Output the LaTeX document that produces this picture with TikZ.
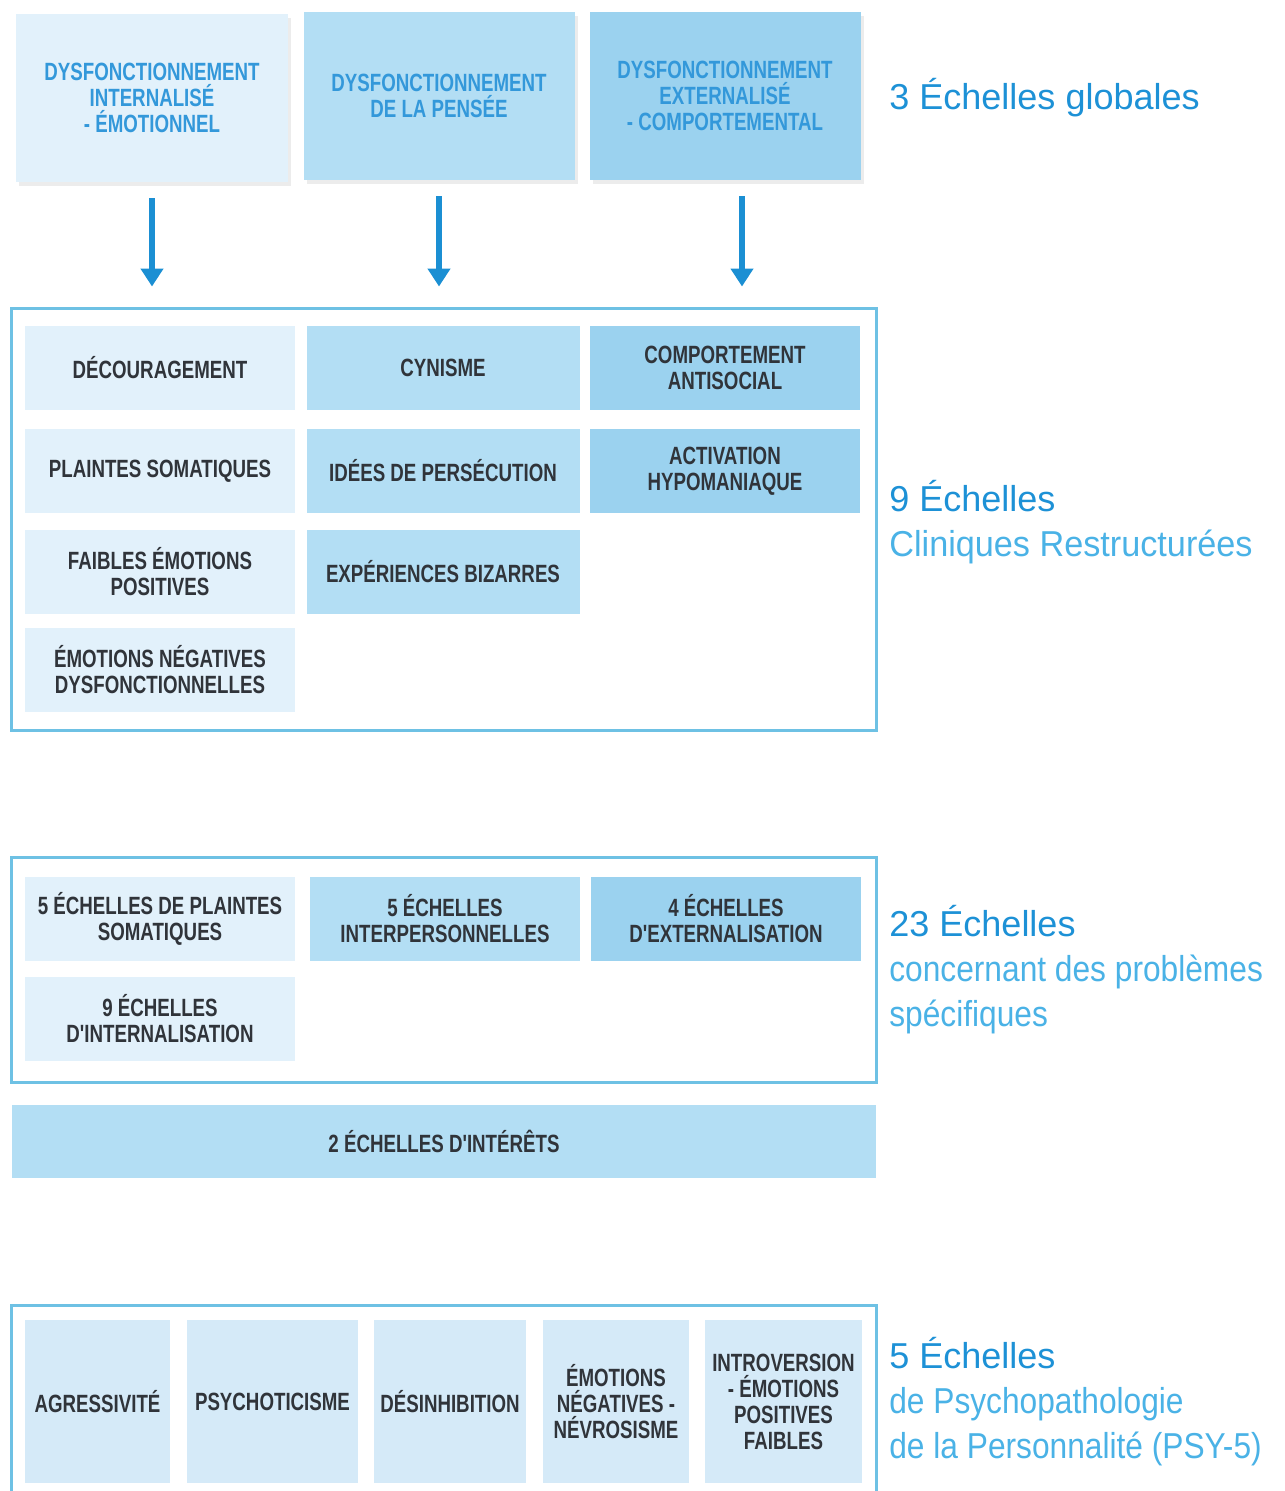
\documentclass[tikz,border=0pt]{standalone}
\usepackage{fontspec}
\setmainfont{Liberation Sans}
\newfontfamily\narrowfont[FakeStretch=0.75]{Liberation Sans}
\newfontfamily\headfont[FakeStretch=0.88]{Liberation Sans}
\newfontfamily\clinfont[FakeStretch=0.95]{Liberation Sans}
\usetikzlibrary{arrows.meta,shadows}

\definecolor{pale}{HTML}{E2F1FB}
\definecolor{mid}{HTML}{B3DEF4}
\definecolor{deep}{HTML}{9BD2EF}
\definecolor{psy}{HTML}{D5EAF8}
\definecolor{celltext}{HTML}{30343A}
\definecolor{globtext}{HTML}{3398DA}
\definecolor{framecol}{HTML}{6EC1E4}
\definecolor{arrowcol}{HTML}{1B8FD3}
\definecolor{headdark}{HTML}{1D91D6}
\definecolor{headlight}{HTML}{4AB2E6}

\begin{document}
\begin{tikzpicture}[x=0.2mm, y=-0.2mm,
    cell/.style={fill=#1, minimum width=54mm, minimum height=16.8mm, inner sep=0pt,
        align=center, text=celltext,
        font=\narrowfont\bfseries\fontsize{14.2}{14.8}\selectfont},
    cell/.default=pale,
    glob/.style={cell=#1, minimum width=54.2mm, minimum height=33.6mm, text=globtext,
        drop shadow={shadow xshift=0.6mm, shadow yshift=-0.8mm, opacity=0.12, fill=black!60}},
    frame/.style={draw=framecol, line width=0.6mm, minimum width=172.8mm, inner sep=0pt},
    head/.style={anchor=west, inner sep=0pt, align=left, text=headlight,
        font=\headfont\fontsize{20.5}{25.6}\selectfont},
    down/.style={draw=arrowcol, line width=1.1mm, -{Triangle[width=4.4mm,length=3.6mm]},
        shorten <=3.2mm, shorten >=4mm}]
    \clip (0,0) rectangle (1285,1491);

    % Global scales
    \node[glob=pale] (glob1) at (152,98) {DYSFONCTIONNEMENT\\INTERNALISÉ\\- ÉMOTIONNEL};
    \node[glob=mid] (glob2) at (439,96) {DYSFONCTIONNEMENT\\DE LA PENSÉE};
    \node[glob=deep] (glob3) at (725,96) {DYSFONCTIONNEMENT\\EXTERNALISÉ\\- COMPORTEMENTAL};
    \node[head] (hGlob) at (889,98) {{\normalfont\color{headdark}3 Échelles globales}};

    % Restructured clinical scales
    \node[frame, minimum height=84.4mm] (clinFrame) at (444,519) {};
    \node[cell] (dem) at (160,368) {DÉCOURAGEMENT};
    \node[cell=mid, minimum width=54.6mm] (cyn) at (443,368) {CYNISME};
    \node[cell=deep] (asb) at (725,368) {COMPORTEMENT\\ANTISOCIAL};
    \node[cell] (som) at (160,471) {PLAINTES SOMATIQUES};
    \node[cell=mid, minimum width=54.6mm] (per) at (443,471) {IDÉES DE PERSÉCUTION};
    \node[cell=deep] (hpm) at (725,471) {ACTIVATION\\HYPOMANIAQUE};
    \node[cell] (lpe) at (160,572) {FAIBLES ÉMOTIONS\\POSITIVES};
    \node[cell=mid, minimum width=54.6mm] (abx) at (443,572) {EXPÉRIENCES BIZARRES};
    \node[cell] (dne) at (160,670) {ÉMOTIONS NÉGATIVES\\DYSFONCTIONNELLES};
    \node[head] (hClin) at (889,522)
        {{\normalfont\color{headdark}9 Échelles}\\{\clinfont Cliniques Restructurées}};

    % Specific problems
    \node[frame, minimum height=45mm] (specFrame) at (444,969.5) {};
    \node[cell] (spSom) at (160,918.5) {5 ÉCHELLES DE PLAINTES\\SOMATIQUES};
    \node[cell=mid] (spInt) at (445,918.5) {5 ÉCHELLES\\INTERPERSONNELLES};
    \node[cell=deep] (spExt) at (726,918.5) {4 ÉCHELLES\\D'EXTERNALISATION};
    \node[cell] (spInn) at (160,1018.5) {9 ÉCHELLES\\D'INTERNALISATION};
    \node[cell=mid, minimum width=172.8mm, minimum height=14.6mm] (interest) at (444,1141)
        {2 ÉCHELLES D'INTÉRÊTS};
    \node[head] (hSpec) at (889,970)
        {{\normalfont\color{headdark}23 Échelles}\\concernant des problèmes\\spécifiques};

    % PSY-5
    \node[frame, minimum height=43mm] (psyFrame) at (444,1412.5) {};
    \node[cell=psy, minimum width=29mm, minimum height=32.6mm] (agr) at (97.5,1401.5) {AGRESSIVITÉ};
    \node[cell=psy, minimum width=34.2mm, minimum height=32.6mm] (psyc) at (272.5,1401.5) {PSYCHOTICISME};
    \node[cell=psy, minimum width=30.4mm, minimum height=32.6mm] (dis) at (450,1401.5) {DÉSINHIBITION};
    \node[cell=psy, minimum width=29.2mm, minimum height=32.6mm] (neg) at (616,1401.5)
        {ÉMOTIONS\\NÉGATIVES -\\NÉVROSISME};
    \node[cell=psy, minimum width=31.4mm, minimum height=32.6mm] (intr) at (783.5,1401.5)
        {INTROVERSION\\- ÉMOTIONS\\POSITIVES\\FAIBLES};
    \node[head] (hPsy) at (889,1402)
        {{\normalfont\color{headdark}5 Échelles}\\de Psychopathologie\\de la Personnalité (PSY-5)};

    % Arrows
    \draw[down] (glob1) -- (glob1 |- clinFrame.north);
    \draw[down] (glob2) -- (glob2 |- clinFrame.north);
    \draw[down] ([xshift=3.4mm]glob3.south) -- ([xshift=3.4mm]glob3.south |- clinFrame.north);
\end{tikzpicture}
\end{document}
